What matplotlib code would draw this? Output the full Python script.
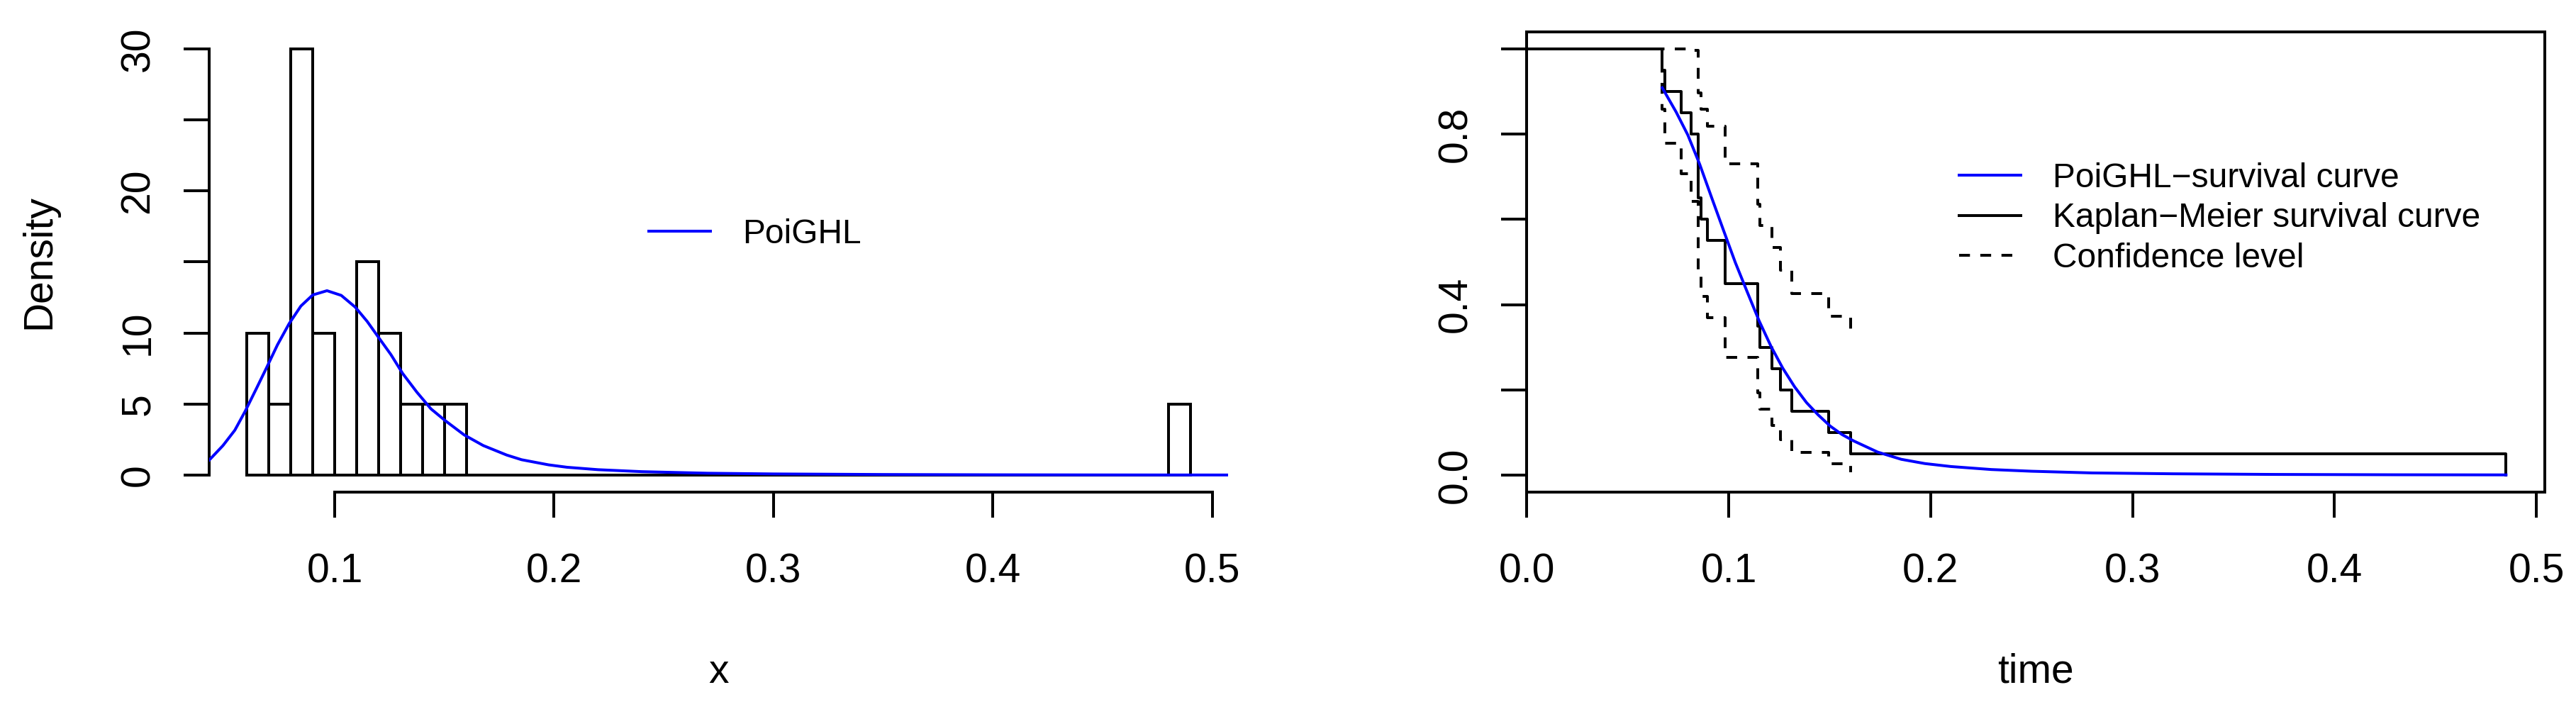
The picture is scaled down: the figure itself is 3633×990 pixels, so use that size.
import numpy as np
import matplotlib
matplotlib.use("Agg")
from matplotlib import pyplot as plt
from matplotlib.lines import Line2D

plt.rcParams["font.family"] = ["Liberation Sans", "DejaVu Sans"]
plt.rcParams["lines.scale_dashes"] = False

# ---- left panel: histogram (density scale) + fitted PoiGHL density ----
hist_breaks = np.linspace(0.06, 0.49, 44)
hist_density = [10, 5, 30, 10, 0, 15, 10, 5, 5, 5] + [0] * 32 + [5]

pdf_x = [0.0428, 0.0491, 0.0545, 0.0592, 0.0642, 0.0690, 0.0739, 0.0792, 0.0846,
         0.0900, 0.0965, 0.1030, 0.1094, 0.1148, 0.1202, 0.1256, 0.1310, 0.1375,
         0.1439, 0.1504, 0.1590, 0.1677, 0.1784, 0.1852, 0.1975, 0.2059, 0.2200,
         0.2400, 0.2700, 0.3000, 0.3500, 0.4000, 0.4500, 0.5072]
pdf_y = [1.05, 2.08, 3.16, 4.49, 6.05, 7.57, 9.16, 10.65, 11.90,
         12.68, 12.98, 12.65, 11.82, 10.82, 9.65, 8.49, 7.15, 5.83,
         4.66, 3.83, 2.83, 2.08, 1.41, 1.08, 0.72, 0.55, 0.38,
         0.24, 0.13, 0.08, 0.04, 0.02, 0.01, 0.005]

# ---- right panel: Kaplan-Meier curve, confidence band, PoiGHL survival ----
km_time = [0.0670, 0.0684, 0.0763, 0.0813, 0.0848, 0.0862, 0.0893, 0.0981,
           0.1143, 0.1153, 0.1212, 0.1255, 0.1312, 0.1494, 0.1604, 0.4850]
km_surv = [0.95, 0.90, 0.85, 0.80, 0.65, 0.60, 0.55, 0.45,
           0.35, 0.30, 0.25, 0.20, 0.15, 0.10, 0.05, 0.00]
ci_upper = [1.0, 1.0, 1.0, 0.996, 0.897, 0.858, 0.818, 0.731,
            0.636, 0.586, 0.534, 0.481, 0.426, 0.372, 0.338]
ci_lower = [0.859, 0.778, 0.707, 0.643, 0.471, 0.420, 0.370, 0.277,
            0.193, 0.154, 0.117, 0.083, 0.053, 0.027, 0.007]

fit_t = [0.0670, 0.0739, 0.0797, 0.0856, 0.0915, 0.0974, 0.1032, 0.1091,
         0.1150, 0.1209, 0.1267, 0.1326, 0.1385, 0.1443, 0.1502, 0.1561,
         0.1619, 0.1737, 0.1854, 0.1971, 0.2101, 0.2300, 0.2500, 0.2800,
         0.3200, 0.3700, 0.4300, 0.4850]
fit_s = [0.909, 0.852, 0.798, 0.729, 0.651, 0.574, 0.499, 0.430,
         0.362, 0.302, 0.251, 0.207, 0.170, 0.141, 0.115, 0.095,
         0.080, 0.054, 0.037, 0.027, 0.020, 0.013, 0.009, 0.005,
         0.003, 0.0015, 0.0007, 0.0004]

LW = 2.88
FS = 41
FS_LEG = 34.5
BLUE = "#0000FF"

fig = plt.figure(figsize=(36.33, 9.9), dpi=100)
ax1 = fig.add_axes([0.08120, 0.29899, 0.39554, 0.65556])
ax2 = fig.add_axes([0.59276, 0.29899, 0.39513, 0.65556])

# left
ax1.bar(hist_breaks[:-1], hist_density, width=np.diff(hist_breaks), align="edge",
        fill=False, edgecolor="black", linewidth=LW, zorder=2)
ax1.plot(pdf_x, pdf_y, color=BLUE, lw=LW, zorder=3)
ax1.set_xlim(0.0428, 0.5072)
ax1.set_ylim(-1.2, 31.2)
for s in ["top", "right"]:
    ax1.spines[s].set_visible(False)
ax1.spines["left"].set_bounds(0, 30)
ax1.spines["bottom"].set_bounds(0.1, 0.5)
ax1.set_xticks([0.1, 0.2, 0.3, 0.4, 0.5])
ax1.set_xticklabels(["0.1", "0.2", "0.3", "0.4", "0.5"])
ax1.set_yticks([0, 5, 10, 15, 20, 25, 30])
ax1.set_yticklabels(["0", "5", "10", "", "20", "", "30"], rotation=90, va="center")
ax1.set_xlabel("x", fontsize=FS)
ax1.set_ylabel("Density", fontsize=FS)
ax1.xaxis.set_label_coords(0.5, -0.349)
ax1.yaxis.set_label_coords(-0.148, 0.5)
ax1.legend(handles=[Line2D([], [], color=BLUE, lw=LW)], labels=["PoiGHL"],
           loc="upper left", bbox_to_anchor=(0.25186, 0.6889),
           bbox_transform=fig.transFigure, frameon=False, borderpad=0,
           borderaxespad=0, handlelength=1.81, handletextpad=0.94,
           fontsize=FS_LEG)

# right
ax2.step([0] + km_time, [1.0] + km_surv, where="post", color="black", lw=LW)
ax2.step([0] + km_time[:-1], [1.0] + ci_upper, where="post", color="black",
         lw=LW, linestyle=(0, (11, 10.5)))
ax2.step([0] + km_time[:-1], [1.0] + ci_lower, where="post", color="black",
         lw=LW, linestyle=(0, (11, 10.5)))
ax2.plot(fit_t, fit_s, color=BLUE, lw=LW)
ax2.set_xlim(0, 0.5042)
ax2.set_ylim(-0.04, 1.04)
ax2.set_xticks([0.0, 0.1, 0.2, 0.3, 0.4, 0.5])
ax2.set_xticklabels(["0.0", "0.1", "0.2", "0.3", "0.4", "0.5"])
ax2.set_yticks([0.0, 0.2, 0.4, 0.6, 0.8, 1.0])
ax2.set_yticklabels(["0.0", "", "0.4", "", "0.8", ""], rotation=90, va="center")
ax2.set_xlabel("time", fontsize=FS)
ax2.xaxis.set_label_coords(0.5, -0.349)
leg_handles = [Line2D([], [], color=BLUE, lw=LW),
               Line2D([], [], color="black", lw=LW),
               Line2D([], [], color="black", lw=LW, linestyle=(0, (11, 10.5)))]
ax2.legend(handles=leg_handles,
           labels=["PoiGHL\u2212survival curve", "Kaplan\u2212Meier survival curve",
                   "Confidence level"],
           loc="upper left", bbox_to_anchor=(0.76053, 0.7687),
           bbox_transform=fig.transFigure, frameon=False, borderpad=0,
           borderaxespad=0, handlelength=1.81, handletextpad=0.94,
           labelspacing=0.24, fontsize=FS_LEG)

for ax in (ax1, ax2):
    for sp in ax.spines.values():
        sp.set_linewidth(LW)
    ax.tick_params(axis="both", direction="out", length=25.9, width=LW,
                   labelsize=FS)
    ax.tick_params(axis="x", pad=36)
    ax.tick_params(axis="y", pad=26.6)

fig.savefig("out.png", dpi=100)
